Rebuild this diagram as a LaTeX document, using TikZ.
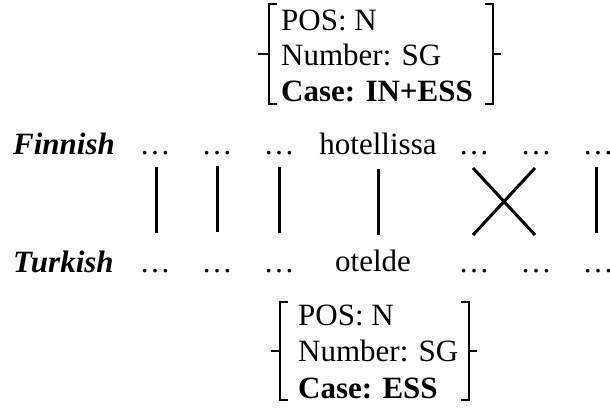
\documentclass[tikz,border=0pt]{standalone}
\usepackage{fontspec}
\setmainfont{Liberation Serif}
\begin{document}
\begin{tikzpicture}[x=1pt,y=-1pt,
  every node/.style={inner sep=0pt, font=\fontsize{31}{36}\selectfont},
  lang/.style={anchor=base west, font=\fontsize{31}{36}\selectfont\bfseries\itshape},
  word/.style={anchor=base},
  feat/.style={anchor=base west},
  link/.style={line width=3pt},
  brk/.style={line width=2pt}]
\useasboundingbox (0,0) rectangle (610,410);
\clip (0,0) rectangle (610,410);

% feature bundle of the Finnish word
\node[feat] (fa) at (281,30) {POS: N};
\node[feat] (fb) at (281,65.5) {Number: SG};
\node[feat] (fc) at (281,101) {\textbf{Case: IN+ESS}};
\draw[brk] (277,4) -- (269,4) -- (269,104) -- (277,104);
\draw[brk] (269,54) -- (258,54);
\draw[brk] (485,4) -- (493,4) -- (493,104) -- (485,104);
\draw[brk] (493,54) -- (501,54);

% Finnish sentence
\node[lang] (fin) at (13,154) {Finnish};
\node[word] (f1) at (155,154) {…};
\node[word] (f2) at (217,154) {…};
\node[word] (f3) at (279,154) {…};
\node[word] (f4) at (378,154) {hotellissa};
\node[word] (f5) at (474,154) {…};
\node[word] (f6) at (536,154) {…};
\node[word] (f7) at (598,154) {…};

% Turkish sentence
\node[lang] (tur) at (13,272) {Turkish};
\node[word] (t1) at (155,272) {…};
\node[word] (t2) at (217,272) {…};
\node[word] (t3) at (279,272) {…};
\node[word] (t4) at (373,271) {otelde};
\node[word] (t5) at (474,272) {…};
\node[word] (t6) at (536,272) {…};
\node[word] (t7) at (598,272) {…};

% word alignment links
\coordinate (up) at (0,167);
\coordinate (dn) at (0,233);
\draw[link] ([xshift=1pt]f1.base |- up) -- ([xshift=1pt]t1.base |- dn);
\draw[link] ([yshift=1pt]f2.base |- up) -- ([yshift=1pt]t2.base |- dn);
\draw[link] (f3.base |- up) -- (f3.base |- dn);
\draw[link] ([yshift=-2pt]f4.base |- up) -- ([yshift=-2pt]f4.base |- dn);
\draw[link] ([xshift=-1pt,yshift=-1pt]f5.base |- up) -- ([xshift=-1pt,yshift=-2pt]t6.base |- dn);
\draw[link] ([xshift=-1pt,yshift=-1pt]f6.base |- up) -- ([xshift=-1pt,yshift=-2pt]t5.base |- dn);
\draw[link] ([xshift=-2pt]f7.base |- up) -- ([xshift=-2pt]t7.base |- dn);

% feature bundle of the Turkish word
\node[feat] (ta) at (298,325) {POS: N};
\node[feat] (tb) at (298,361.5) {Number: SG};
\node[feat] (tc) at (298,398) {\textbf{Case: ESS}};
\draw[brk] (288,302) -- (280,302) -- (280,400) -- (288,400);
\draw[brk] (280,351) -- (271,351);
\draw[brk] (461,302) -- (469,302) -- (469,400) -- (461,400);
\draw[brk] (469,351) -- (477,351);
\end{tikzpicture}
\end{document}
